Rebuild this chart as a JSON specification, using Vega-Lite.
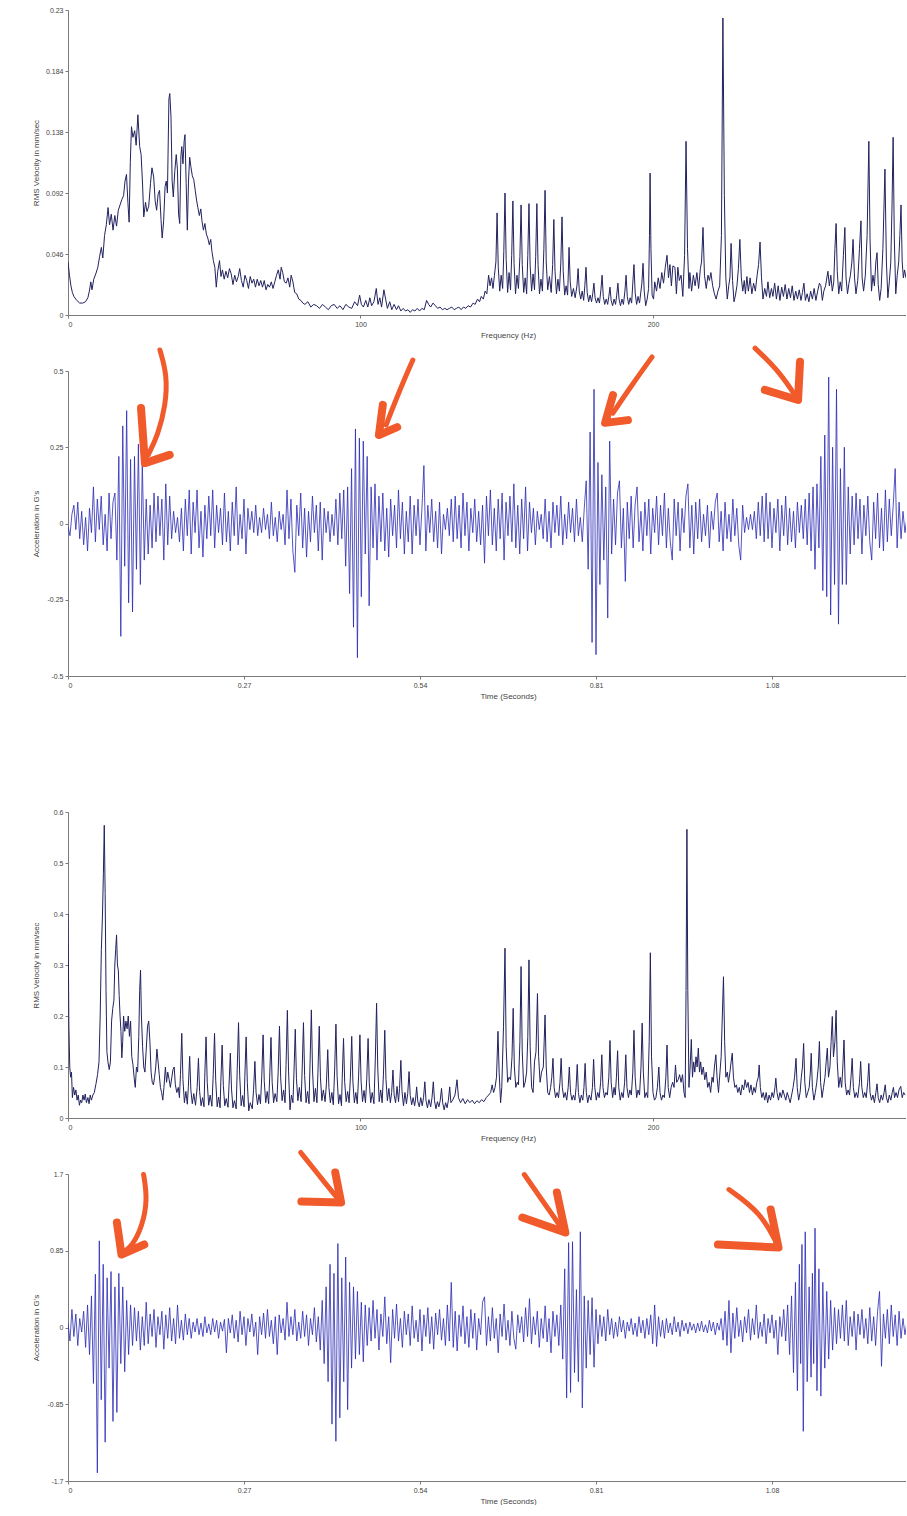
{
  "$schema": "https://vega.github.io/schema/vega-lite/v6.json",
  "background": "white",
  "padding": {"left": 32, "top": 6, "right": 0, "bottom": 0},
  "config": {
    "view": {"stroke": null},
    "font": "Liberation Sans",
    "axis": {
      "grid": false,
      "domainColor": "#7a7a7a",
      "tickColor": "#7a7a7a",
      "tickSize": 3,
      "labelPadding": 2,
      "labelFont": "Liberation Sans",
      "labelFontSize": 7,
      "labelColor": "#444444",
      "titleFont": "Liberation Sans",
      "titleFontSize": 8,
      "titleFontWeight": "normal",
      "titleColor": "#444444"
    },
    "axisY": {"minExtent": 22, "maxExtent": 22, "titlePadding": 6},
    "axisX": {"titlePadding": 4}
  },
  "datasets": {
    "spec1": [
      {"f":0,"v":0.040},{"f":0.5,"v":0.030},{"f":1,"v":0.022},{"f":1.5,"v":0.017},{"f":2,"v":0.014},{"f":3,"v":0.011},{"f":4,"v":0.009},{"f":5,"v":0.009},{"f":6,"v":0.010},{"f":6.8,"v":0.013},
      {"f":7.3,"v":0.018},{"f":7.8,"v":0.025},{"f":8.2,"v":0.019},{"f":8.8,"v":0.027},{"f":9.5,"v":0.031},{"f":10.2,"v":0.036},{"f":10.8,"v":0.044},{"f":11.4,"v":0.051},{"f":11.9,"v":0.043},{"f":12.5,"v":0.060},
      {"f":13.1,"v":0.068},{"f":13.7,"v":0.081},{"f":14.2,"v":0.068},{"f":14.8,"v":0.076},{"f":15.4,"v":0.064},{"f":16.0,"v":0.075},{"f":16.6,"v":0.067},{"f":17.2,"v":0.079},{"f":17.8,"v":0.083},{"f":18.4,"v":0.087},
      {"f":19.0,"v":0.090},{"f":19.5,"v":0.101},{"f":20.0,"v":0.106},{"f":20.5,"v":0.084},{"f":20.9,"v":0.070},{"f":21.3,"v":0.115},{"f":21.7,"v":0.142},{"f":22.2,"v":0.134},{"f":22.8,"v":0.139},{"f":23.3,"v":0.128},
      {"f":23.9,"v":0.151},{"f":24.5,"v":0.127},{"f":25.0,"v":0.121},{"f":25.5,"v":0.098},{"f":25.9,"v":0.074},{"f":26.5,"v":0.085},{"f":27.0,"v":0.078},{"f":27.6,"v":0.082},{"f":28.2,"v":0.099},{"f":28.7,"v":0.111},
      {"f":29.3,"v":0.104},{"f":29.8,"v":0.086},{"f":30.3,"v":0.079},{"f":30.8,"v":0.091},{"f":31.3,"v":0.094},{"f":31.8,"v":0.072},{"f":32.2,"v":0.058},{"f":32.7,"v":0.071},{"f":33.2,"v":0.097},{"f":33.6,"v":0.101},
      {"f":34.0,"v":0.092},{"f":34.5,"v":0.163},{"f":34.8,"v":0.167},{"f":35.2,"v":0.150},{"f":35.6,"v":0.101},{"f":36.0,"v":0.089},{"f":36.5,"v":0.108},{"f":37.0,"v":0.121},{"f":37.4,"v":0.110},{"f":37.8,"v":0.076},
      {"f":38.2,"v":0.069},{"f":38.6,"v":0.120},{"f":38.9,"v":0.127},{"f":39.3,"v":0.114},{"f":39.7,"v":0.131},{"f":40.0,"v":0.136},{"f":40.4,"v":0.099},{"f":40.8,"v":0.064},{"f":41.2,"v":0.101},{"f":41.6,"v":0.119},
      {"f":42.0,"v":0.112},{"f":42.5,"v":0.105},{"f":43.0,"v":0.102},{"f":43.5,"v":0.094},{"f":44.0,"v":0.086},{"f":44.4,"v":0.081},{"f":44.9,"v":0.075},{"f":45.4,"v":0.080},{"f":45.8,"v":0.071},{"f":46.3,"v":0.064},
      {"f":46.8,"v":0.069},{"f":47.3,"v":0.061},{"f":47.8,"v":0.058},{"f":48.3,"v":0.053},{"f":48.8,"v":0.057},{"f":49.2,"v":0.048},{"f":49.7,"v":0.041},{"f":50.2,"v":0.036},{"f":50.7,"v":0.021},{"f":51.2,"v":0.033},
      {"f":51.8,"v":0.041},{"f":52.3,"v":0.029},{"f":52.8,"v":0.034},{"f":53.4,"v":0.027},{"f":54.0,"v":0.033},{"f":54.6,"v":0.028},{"f":55.2,"v":0.035},{"f":55.8,"v":0.031},{"f":56.4,"v":0.023},{"f":57.0,"v":0.030},
      {"f":57.6,"v":0.025},{"f":58.2,"v":0.029},{"f":58.7,"v":0.035},{"f":59.3,"v":0.026},{"f":59.9,"v":0.021},{"f":60.5,"v":0.030},{"f":61.1,"v":0.026},{"f":61.7,"v":0.020},{"f":62.3,"v":0.029},{"f":62.9,"v":0.024},
      {"f":63.5,"v":0.027},{"f":64.1,"v":0.021},{"f":64.7,"v":0.027},{"f":65.3,"v":0.022},{"f":65.9,"v":0.026},{"f":66.5,"v":0.021},{"f":67.1,"v":0.026},{"f":67.7,"v":0.019},{"f":68.3,"v":0.023},{"f":68.9,"v":0.021},
      {"f":69.5,"v":0.025},{"f":70.1,"v":0.020},{"f":70.7,"v":0.025},{"f":71.3,"v":0.030},{"f":71.9,"v":0.034},{"f":72.5,"v":0.027},{"f":72.9,"v":0.036},{"f":73.4,"v":0.032},{"f":74.0,"v":0.025},{"f":74.6,"v":0.024},
      {"f":75.2,"v":0.028},{"f":75.8,"v":0.021},{"f":76.3,"v":0.030},{"f":76.9,"v":0.025},{"f":77.5,"v":0.017},{"f":78.2,"v":0.016},{"f":78.9,"v":0.012},{"f":79.6,"v":0.011},{"f":80.3,"v":0.009},{"f":81,"v":0.008},
      {"f":82,"v":0.010},{"f":83,"v":0.006},{"f":84,"v":0.008},{"f":85,"v":0.007},{"f":86,"v":0.005},{"f":87,"v":0.008},{"f":88,"v":0.006},{"f":89,"v":0.004},{"f":90,"v":0.007},{"f":91,"v":0.008},
      {"f":92,"v":0.005},{"f":93,"v":0.007},{"f":94,"v":0.004},{"f":95,"v":0.008},{"f":96,"v":0.006},{"f":97,"v":0.005},{"f":98,"v":0.010},{"f":99,"v":0.007},{"f":99.7,"v":0.015},{"f":100.3,"v":0.008},
      {"f":101,"v":0.006},{"f":101.8,"v":0.011},{"f":102.5,"v":0.006},{"f":103.2,"v":0.013},{"f":103.8,"v":0.007},{"f":104.6,"v":0.010},{"f":105.4,"v":0.020},{"f":106,"v":0.008},{"f":106.6,"v":0.013},{"f":107.2,"v":0.006},
      {"f":108,"v":0.019},{"f":108.6,"v":0.012},{"f":109.2,"v":0.005},{"f":110,"v":0.010},{"f":110.7,"v":0.004},{"f":111.5,"v":0.008},{"f":112.3,"v":0.004},{"f":113,"v":0.007},{"f":113.8,"v":0.003},{"f":114.6,"v":0.005},
      {"f":115.4,"v":0.003},{"f":116.2,"v":0.004},{"f":117,"v":0.002},{"f":117.8,"v":0.004},{"f":118.6,"v":0.003},{"f":119.4,"v":0.005},{"f":120.2,"v":0.003},{"f":121,"v":0.005},{"f":121.8,"v":0.004},{"f":122.6,"v":0.011},
      {"f":123.3,"v":0.008},{"f":124,"v":0.006},{"f":124.8,"v":0.009},{"f":125.6,"v":0.007},{"f":126.4,"v":0.005},{"f":127.2,"v":0.006},{"f":128,"v":0.004},{"f":128.8,"v":0.005},{"f":129.6,"v":0.004},{"f":130.4,"v":0.005},
      {"f":131.2,"v":0.006},{"f":132,"v":0.004},{"f":132.8,"v":0.005},{"f":133.6,"v":0.006},{"f":134.4,"v":0.004},{"f":135.2,"v":0.006},{"f":136,"v":0.005},{"f":136.8,"v":0.007},{"f":137.6,"v":0.006},{"f":138.5,"v":0.009},
      {"f":139.2,"v":0.008},{"f":140,"v":0.012},{"f":140.7,"v":0.010},{"f":141.3,"v":0.014},{"f":142,"v":0.012},{"f":142.6,"v":0.018},{"f":143.2,"v":0.016},{"f":143.8,"v":0.030},{"f":144.3,"v":0.022},{"f":144.8,"v":0.028},
      {"f":145.3,"v":0.020},{"f":145.8,"v":0.030},
      {"f":146.3,"v":0.040},{"f":146.7,"v":0.077},{"f":147.1,"v":0.036},{"f":147.6,"v":0.018},{"f":148.1,"v":0.030},{"f":148.6,"v":0.020},
      {"f":149.0,"v":0.048},{"f":149.4,"v":0.092},{"f":149.8,"v":0.042},{"f":150.3,"v":0.017},{"f":150.8,"v":0.032},{"f":151.3,"v":0.019},
      {"f":151.7,"v":0.045},{"f":152.1,"v":0.086},{"f":152.5,"v":0.039},{"f":153.0,"v":0.016},{"f":153.5,"v":0.030},{"f":154.0,"v":0.020},
      {"f":154.5,"v":0.044},{"f":154.9,"v":0.083},{"f":155.3,"v":0.038},{"f":155.8,"v":0.017},{"f":156.3,"v":0.028},{"f":156.8,"v":0.016},
      {"f":157.2,"v":0.045},{"f":157.6,"v":0.084},{"f":158.0,"v":0.037},{"f":158.5,"v":0.018},{"f":159.0,"v":0.031},{"f":159.5,"v":0.019},
      {"f":159.9,"v":0.044},{"f":160.3,"v":0.084},{"f":160.7,"v":0.038},{"f":161.2,"v":0.016},{"f":161.7,"v":0.027},{"f":162.2,"v":0.018},
      {"f":162.7,"v":0.050},{"f":163.1,"v":0.094},{"f":163.5,"v":0.040},{"f":164.0,"v":0.019},{"f":164.6,"v":0.029},{"f":165.2,"v":0.017},
      {"f":165.7,"v":0.038},{"f":166.1,"v":0.072},{"f":166.5,"v":0.033},{"f":167.0,"v":0.016},{"f":167.5,"v":0.027},{"f":168.0,"v":0.018},
      {"f":168.5,"v":0.040},{"f":168.9,"v":0.074},{"f":169.3,"v":0.033},{"f":169.8,"v":0.015},{"f":170.3,"v":0.022},{"f":170.8,"v":0.015},
      {"f":171.0,"v":0.028},{"f":171.3,"v":0.051},{"f":171.7,"v":0.025},{"f":172.2,"v":0.014},{"f":172.8,"v":0.020},{"f":173.4,"v":0.013},
      {"f":174.0,"v":0.022},{"f":174.4,"v":0.035},{"f":174.8,"v":0.018},{"f":175.3,"v":0.012},{"f":175.8,"v":0.018},{"f":176.3,"v":0.011},
      {"f":176.7,"v":0.022},{"f":177.1,"v":0.036},{"f":177.5,"v":0.017},{"f":178.0,"v":0.010},{"f":178.5,"v":0.015},{"f":179.0,"v":0.010},
      {"f":179.4,"v":0.016},{"f":179.8,"v":0.024},{"f":180.2,"v":0.013},{"f":180.7,"v":0.009},{"f":181.2,"v":0.013},{"f":181.7,"v":0.009},
      {"f":182.2,"v":0.019},{"f":182.6,"v":0.030},{"f":183.0,"v":0.014},{"f":183.5,"v":0.008},{"f":184.0,"v":0.012},{"f":184.5,"v":0.008},
      {"f":184.9,"v":0.014},{"f":185.3,"v":0.021},{"f":185.7,"v":0.011},{"f":186.2,"v":0.007},{"f":186.7,"v":0.012},{"f":187.2,"v":0.008},
      {"f":187.6,"v":0.015},{"f":188.0,"v":0.024},{"f":188.4,"v":0.012},{"f":188.9,"v":0.007},{"f":189.4,"v":0.012},{"f":189.9,"v":0.008},
      {"f":190.4,"v":0.018},{"f":190.8,"v":0.030},{"f":191.2,"v":0.014},{"f":191.7,"v":0.008},{"f":192.2,"v":0.013},{"f":192.7,"v":0.009},
      {"f":193.1,"v":0.024},{"f":193.5,"v":0.038},{"f":193.9,"v":0.017},{"f":194.4,"v":0.008},{"f":194.9,"v":0.014},{"f":195.4,"v":0.009},
      {"f":196.2,"v":0.024},{"f":196.6,"v":0.039},{"f":197.0,"v":0.018},{"f":197.5,"v":0.007},{"f":198.0,"v":0.012},{"f":198.5,"v":0.020},
      {"f":198.8,"v":0.060},{"f":199.0,"v":0.107},{"f":199.3,"v":0.050},{"f":199.7,"v":0.015},
      {"f":200.2,"v":0.012},{"f":200.6,"v":0.025},{"f":201.2,"v":0.018},{"f":201.8,"v":0.028},{"f":202.4,"v":0.020},{"f":203,"v":0.032},{"f":203.6,"v":0.024},{"f":204.2,"v":0.036},{"f":204.8,"v":0.045},{"f":205.3,"v":0.028},
      {"f":205.8,"v":0.038},{"f":206.3,"v":0.022},{"f":206.8,"v":0.037},{"f":207.5,"v":0.036},{"f":208,"v":0.016},{"f":208.5,"v":0.036},{"f":209,"v":0.026},{"f":209.6,"v":0.030},{"f":210.2,"v":0.014},{"f":210.8,"v":0.045},
      {"f":211.3,"v":0.131},{"f":211.8,"v":0.050},{"f":212.3,"v":0.020},{"f":212.6,"v":0.032},{"f":213.2,"v":0.018},{"f":213.8,"v":0.030},{"f":214.4,"v":0.022},{"f":215,"v":0.032},{"f":215.6,"v":0.020},{"f":216.2,"v":0.035},
      {"f":216.6,"v":0.040},{"f":217.1,"v":0.066},{"f":217.6,"v":0.030},{"f":218.2,"v":0.020},{"f":218.8,"v":0.030},{"f":219.3,"v":0.026},{"f":219.8,"v":0.032},{"f":220.4,"v":0.022},{"f":221,"v":0.016},{"f":221.6,"v":0.012},
      {"f":222.2,"v":0.018},{"f":222.8,"v":0.022},{"f":223.4,"v":0.060},{"f":223.9,"v":0.224},{"f":224.4,"v":0.090},{"f":224.9,"v":0.028},{"f":225.4,"v":0.012},{"f":225.9,"v":0.022},{"f":226.3,"v":0.028},{"f":226.7,"v":0.054},
      {"f":227.2,"v":0.026},{"f":227.7,"v":0.010},{"f":228.2,"v":0.015},{"f":228.7,"v":0.022},{"f":229.2,"v":0.035},{"f":229.7,"v":0.057},{"f":230.2,"v":0.028},{"f":230.7,"v":0.018},{"f":231.2,"v":0.026},{"f":231.6,"v":0.016},
      {"f":232.1,"v":0.029},{"f":232.6,"v":0.018},{"f":233.2,"v":0.028},{"f":233.8,"v":0.016},{"f":234.4,"v":0.024},{"f":235,"v":0.018},{"f":235.6,"v":0.030},{"f":236.1,"v":0.038},{"f":236.6,"v":0.055},{"f":237.1,"v":0.028},
      {"f":237.6,"v":0.012},{"f":238.2,"v":0.020},{"f":238.8,"v":0.014},{"f":239.3,"v":0.025},{"f":239.9,"v":0.013},{"f":240.5,"v":0.020},{"f":241,"v":0.014},{"f":241.6,"v":0.024},{"f":242.2,"v":0.012},{"f":242.8,"v":0.022},
      {"f":243.4,"v":0.011},{"f":244,"v":0.021},{"f":244.6,"v":0.014},{"f":245.2,"v":0.023},{"f":245.8,"v":0.012},{"f":246.4,"v":0.020},{"f":247,"v":0.013},{"f":247.6,"v":0.022},{"f":248.2,"v":0.011},{"f":248.8,"v":0.018},
      {"f":249.4,"v":0.012},{"f":250,"v":0.019},{"f":250.6,"v":0.011},{"f":251.1,"v":0.017},{"f":251.6,"v":0.024},{"f":252.1,"v":0.011},{"f":252.7,"v":0.016},{"f":253.3,"v":0.010},{"f":253.9,"v":0.018},{"f":254.5,"v":0.012},
      {"f":255.1,"v":0.020},{"f":255.7,"v":0.011},{"f":256.3,"v":0.018},{"f":256.9,"v":0.024},{"f":257.4,"v":0.022},{"f":257.9,"v":0.011},{"f":258.4,"v":0.018},{"f":259,"v":0.022},{"f":259.8,"v":0.033},{"f":260.3,"v":0.022},
      {"f":260.8,"v":0.030},{"f":261.3,"v":0.018},{"f":261.8,"v":0.025},{"f":262.2,"v":0.050},{"f":262.6,"v":0.069},{"f":263,"v":0.033},{"f":263.5,"v":0.016},{"f":264,"v":0.025},{"f":264.5,"v":0.018},{"f":265.1,"v":0.045},
      {"f":265.6,"v":0.066},{"f":266,"v":0.028},{"f":266.5,"v":0.016},{"f":267,"v":0.024},{"f":267.5,"v":0.030},{"f":268,"v":0.040},{"f":268.4,"v":0.057},{"f":268.9,"v":0.028},{"f":269.4,"v":0.016},{"f":270,"v":0.026},
      {"f":270.6,"v":0.050},{"f":271.1,"v":0.071},{"f":271.5,"v":0.028},{"f":272,"v":0.018},{"f":272.6,"v":0.030},{"f":273.2,"v":0.060},{"f":273.8,"v":0.131},{"f":274.2,"v":0.058},{"f":274.7,"v":0.018},{"f":275.2,"v":0.030},
      {"f":275.7,"v":0.022},{"f":276.2,"v":0.040},{"f":276.6,"v":0.047},{"f":277,"v":0.023},{"f":277.5,"v":0.011},{"f":278,"v":0.020},{"f":278.6,"v":0.050},{"f":279.3,"v":0.110},{"f":279.8,"v":0.040},{"f":280.3,"v":0.013},
      {"f":280.8,"v":0.025},{"f":281.3,"v":0.040},{"f":281.7,"v":0.080},{"f":282.1,"v":0.134},{"f":282.5,"v":0.058},{"f":283,"v":0.016},{"f":283.5,"v":0.030},{"f":284,"v":0.040},{"f":284.4,"v":0.060},{"f":284.8,"v":0.083},
      {"f":285.2,"v":0.040},{"f":285.6,"v":0.028},{"f":286,"v":0.034},{"f":286.5,"v":0.028}
    ],
    "acc1": [
      {"t":0.000,"a":-0.01},{"t":0.003,"a":-0.04},{"t":0.006,"a":0.03},{"t":0.009,"a":0.06},{"t":0.012,"a":-0.02},{"t":0.015,"a":0.07},{"t":0.018,"a":-0.05},{"t":0.021,"a":0.04},{"t":0.024,"a":-0.07},{"t":0.027,"a":0.02},
      {"t":0.030,"a":-0.09},{"t":0.033,"a":0.05},{"t":0.036,"a":-0.03},{"t":0.039,"a":0.12},{"t":0.042,"a":-0.06},{"t":0.045,"a":0.08},{"t":0.048,"a":-0.02},{"t":0.051,"a":0.09},{"t":0.054,"a":-0.07},{"t":0.057,"a":0.03},
      {"t":0.060,"a":-0.09},{"t":0.063,"a":0.10},{"t":0.066,"a":-0.05},{"t":0.069,"a":0.07},{"t":0.072,"a":0.10},{"t":0.075,"a":-0.12},{"t":0.078,"a":0.22},{"t":0.081,"a":-0.37},{"t":0.084,"a":0.32},{"t":0.087,"a":-0.14},
      {"t":0.090,"a":0.37},{"t":0.093,"a":-0.26},{"t":0.096,"a":0.21},{"t":0.099,"a":-0.29},{"t":0.102,"a":0.22},{"t":0.105,"a":-0.15},{"t":0.108,"a":0.26},{"t":0.111,"a":-0.20},{"t":0.114,"a":0.20},{"t":0.117,"a":-0.12},
      {"t":0.120,"a":0.08},{"t":0.123,"a":-0.10},{"t":0.126,"a":0.06},{"t":0.129,"a":-0.08},{"t":0.132,"a":0.10},{"t":0.135,"a":-0.06},{"t":0.138,"a":0.09},{"t":0.141,"a":-0.04},{"t":0.144,"a":0.08},{"t":0.147,"a":-0.12},
      {"t":0.150,"a":0.13},{"t":0.153,"a":-0.07},{"t":0.156,"a":0.09},{"t":0.159,"a":-0.05},{"t":0.162,"a":0.04},{"t":0.165,"a":-0.03},{"t":0.168,"a":0.02},{"t":0.171,"a":-0.06},{"t":0.174,"a":0.05},{"t":0.177,"a":-0.09},
      {"t":0.180,"a":0.08},{"t":0.183,"a":-0.04},{"t":0.186,"a":0.11},{"t":0.189,"a":-0.10},{"t":0.192,"a":0.07},{"t":0.195,"a":-0.03},{"t":0.198,"a":0.11},{"t":0.201,"a":-0.08},{"t":0.204,"a":0.04},{"t":0.207,"a":-0.11},
      {"t":0.210,"a":0.06},{"t":0.213,"a":-0.05},{"t":0.216,"a":0.09},{"t":0.219,"a":-0.04},{"t":0.222,"a":0.11},{"t":0.225,"a":-0.08},{"t":0.228,"a":0.06},{"t":0.231,"a":-0.03},{"t":0.234,"a":0.05},{"t":0.237,"a":-0.07},
      {"t":0.240,"a":0.10},{"t":0.243,"a":-0.06},{"t":0.246,"a":0.04},{"t":0.249,"a":-0.09},{"t":0.252,"a":0.07},{"t":0.255,"a":-0.04},{"t":0.258,"a":0.12},{"t":0.261,"a":-0.07},{"t":0.264,"a":0.03},{"t":0.267,"a":-0.05},
      {"t":0.270,"a":0.08},{"t":0.273,"a":-0.10},{"t":0.276,"a":0.05},{"t":0.279,"a":-0.02},{"t":0.282,"a":0.04},{"t":0.285,"a":-0.03},{"t":0.288,"a":0.06},{"t":0.291,"a":-0.04},{"t":0.294,"a":0.02},{"t":0.297,"a":-0.03},
      {"t":0.300,"a":0.05},{"t":0.303,"a":-0.02},{"t":0.306,"a":0.03},{"t":0.309,"a":-0.05},{"t":0.312,"a":0.07},{"t":0.315,"a":-0.04},{"t":0.318,"a":0.02},{"t":0.321,"a":-0.06},{"t":0.324,"a":0.04},{"t":0.327,"a":-0.02},
      {"t":0.330,"a":0.03},{"t":0.333,"a":-0.07},{"t":0.336,"a":0.11},{"t":0.339,"a":-0.05},{"t":0.342,"a":0.08},{"t":0.345,"a":-0.09},{"t":0.348,"a":-0.16},{"t":0.351,"a":0.06},{"t":0.354,"a":-0.04},{"t":0.357,"a":0.10},
      {"t":0.360,"a":-0.08},{"t":0.363,"a":0.05},{"t":0.366,"a":-0.11},{"t":0.369,"a":0.04},{"t":0.372,"a":-0.06},{"t":0.375,"a":0.09},{"t":0.378,"a":-0.03},{"t":0.381,"a":0.06},{"t":0.384,"a":-0.09},{"t":0.387,"a":0.07},
      {"t":0.390,"a":-0.12},{"t":0.393,"a":0.05},{"t":0.396,"a":-0.03},{"t":0.399,"a":0.04},{"t":0.402,"a":-0.06},{"t":0.405,"a":0.03},{"t":0.408,"a":-0.04},{"t":0.411,"a":0.08},{"t":0.414,"a":-0.07},{"t":0.417,"a":0.10},
      {"t":0.420,"a":-0.05},{"t":0.423,"a":0.11},{"t":0.426,"a":-0.14},{"t":0.429,"a":0.12},{"t":0.432,"a":-0.23},{"t":0.435,"a":0.18},{"t":0.438,"a":-0.34},{"t":0.441,"a":0.31},{"t":0.444,"a":-0.44},{"t":0.447,"a":0.28},
      {"t":0.450,"a":-0.24},{"t":0.453,"a":0.27},{"t":0.456,"a":-0.10},{"t":0.459,"a":0.22},{"t":0.462,"a":-0.27},{"t":0.465,"a":0.12},{"t":0.468,"a":-0.08},{"t":0.471,"a":0.13},{"t":0.474,"a":-0.12},{"t":0.477,"a":0.09},
      {"t":0.480,"a":-0.06},{"t":0.483,"a":0.10},{"t":0.486,"a":-0.09},{"t":0.489,"a":0.05},{"t":0.492,"a":-0.11},{"t":0.495,"a":0.08},{"t":0.498,"a":-0.04},{"t":0.501,"a":0.06},{"t":0.504,"a":-0.08},{"t":0.507,"a":0.11},
      {"t":0.510,"a":-0.05},{"t":0.513,"a":0.07},{"t":0.516,"a":-0.10},{"t":0.519,"a":0.04},{"t":0.522,"a":-0.06},{"t":0.525,"a":0.09},{"t":0.528,"a":-0.10},{"t":0.531,"a":0.06},{"t":0.534,"a":-0.04},{"t":0.537,"a":0.08},
      {"t":0.540,"a":-0.07},{"t":0.543,"a":0.05},{"t":0.546,"a":0.19},{"t":0.549,"a":-0.09},{"t":0.552,"a":0.06},{"t":0.555,"a":-0.03},{"t":0.558,"a":0.08},{"t":0.561,"a":-0.06},{"t":0.564,"a":0.04},{"t":0.567,"a":-0.08},
      {"t":0.570,"a":0.07},{"t":0.573,"a":-0.10},{"t":0.576,"a":0.03},{"t":0.579,"a":-0.02},{"t":0.582,"a":0.05},{"t":0.585,"a":-0.04},{"t":0.588,"a":0.08},{"t":0.591,"a":-0.06},{"t":0.594,"a":0.09},{"t":0.597,"a":-0.05},
      {"t":0.600,"a":0.06},{"t":0.603,"a":-0.08},{"t":0.606,"a":0.10},{"t":0.609,"a":-0.04},{"t":0.612,"a":0.07},{"t":0.615,"a":-0.09},{"t":0.618,"a":0.05},{"t":0.621,"a":-0.03},{"t":0.624,"a":0.08},{"t":0.627,"a":-0.06},
      {"t":0.630,"a":0.04},{"t":0.633,"a":-0.07},{"t":0.636,"a":0.06},{"t":0.639,"a":-0.13},{"t":0.642,"a":0.09},{"t":0.645,"a":-0.04},{"t":0.648,"a":0.11},{"t":0.651,"a":-0.07},{"t":0.654,"a":0.05},{"t":0.657,"a":-0.09},
      {"t":0.660,"a":0.08},{"t":0.663,"a":-0.05},{"t":0.666,"a":0.10},{"t":0.669,"a":-0.12},{"t":0.672,"a":0.07},{"t":0.675,"a":-0.04},{"t":0.678,"a":0.09},{"t":0.681,"a":-0.06},{"t":0.684,"a":0.13},{"t":0.687,"a":-0.08},
      {"t":0.690,"a":0.06},{"t":0.693,"a":-0.10},{"t":0.696,"a":0.08},{"t":0.699,"a":-0.05},{"t":0.702,"a":0.12},{"t":0.705,"a":-0.09},{"t":0.708,"a":0.07},{"t":0.711,"a":-0.03},{"t":0.714,"a":0.05},{"t":0.717,"a":-0.07},
      {"t":0.720,"a":0.04},{"t":0.723,"a":-0.02},{"t":0.726,"a":0.03},{"t":0.729,"a":-0.05},{"t":0.732,"a":0.08},{"t":0.735,"a":-0.06},{"t":0.738,"a":0.04},{"t":0.741,"a":-0.08},{"t":0.744,"a":0.07},{"t":0.747,"a":-0.03},
      {"t":0.750,"a":0.06},{"t":0.753,"a":-0.04},{"t":0.756,"a":0.09},{"t":0.759,"a":-0.07},{"t":0.762,"a":0.03},{"t":0.765,"a":-0.05},{"t":0.768,"a":0.07},{"t":0.771,"a":-0.03},{"t":0.774,"a":0.05},{"t":0.777,"a":-0.06},
      {"t":0.780,"a":0.08},{"t":0.783,"a":-0.04},{"t":0.786,"a":0.02},{"t":0.789,"a":-0.06},{"t":0.792,"a":0.05},{"t":0.795,"a":0.14},{"t":0.798,"a":-0.15},{"t":0.801,"a":0.30},{"t":0.804,"a":-0.39},{"t":0.807,"a":0.44},
      {"t":0.810,"a":-0.43},{"t":0.813,"a":0.20},{"t":0.816,"a":-0.20},{"t":0.819,"a":0.16},{"t":0.822,"a":-0.12},{"t":0.825,"a":0.12},{"t":0.828,"a":-0.31},{"t":0.831,"a":0.27},{"t":0.834,"a":-0.10},{"t":0.837,"a":0.08},
      {"t":0.840,"a":-0.07},{"t":0.843,"a":0.10},{"t":0.846,"a":0.14},{"t":0.849,"a":-0.08},{"t":0.852,"a":0.05},{"t":0.855,"a":-0.19},{"t":0.858,"a":0.07},{"t":0.861,"a":-0.05},{"t":0.864,"a":0.09},{"t":0.867,"a":-0.08},
      {"t":0.870,"a":0.06},{"t":0.873,"a":0.12},{"t":0.876,"a":-0.06},{"t":0.879,"a":0.04},{"t":0.882,"a":-0.09},{"t":0.885,"a":0.07},{"t":0.888,"a":-0.04},{"t":0.891,"a":0.08},{"t":0.894,"a":-0.10},{"t":0.897,"a":0.05},
      {"t":0.900,"a":-0.03},{"t":0.903,"a":0.09},{"t":0.906,"a":-0.07},{"t":0.909,"a":0.06},{"t":0.912,"a":-0.04},{"t":0.915,"a":0.10},{"t":0.918,"a":-0.08},{"t":0.921,"a":0.05},{"t":0.924,"a":-0.06},{"t":0.927,"a":-0.12},
      {"t":0.930,"a":0.08},{"t":0.933,"a":-0.04},{"t":0.936,"a":0.07},{"t":0.939,"a":-0.09},{"t":0.942,"a":0.05},{"t":0.945,"a":-0.03},{"t":0.948,"a":0.09},{"t":0.951,"a":0.13},{"t":0.954,"a":-0.08},{"t":0.957,"a":0.06},
      {"t":0.960,"a":-0.10},{"t":0.963,"a":0.07},{"t":0.966,"a":-0.05},{"t":0.969,"a":0.08},{"t":0.972,"a":-0.06},{"t":0.975,"a":0.03},{"t":0.978,"a":-0.04},{"t":0.981,"a":0.06},{"t":0.984,"a":-0.08},{"t":0.987,"a":0.04},
      {"t":0.990,"a":-0.02},{"t":0.993,"a":0.07},{"t":0.996,"a":0.10},{"t":0.999,"a":-0.06},{"t":1.002,"a":0.04},{"t":1.005,"a":-0.09},{"t":1.008,"a":0.07},{"t":1.011,"a":-0.05},{"t":1.014,"a":0.03},{"t":1.017,"a":-0.06},
      {"t":1.020,"a":0.08},{"t":1.023,"a":-0.04},{"t":1.026,"a":0.05},{"t":1.029,"a":-0.07},{"t":1.032,"a":-0.12},{"t":1.035,"a":0.06},{"t":1.038,"a":-0.03},{"t":1.041,"a":0.02},{"t":1.044,"a":-0.02},{"t":1.047,"a":0.03},
      {"t":1.050,"a":-0.02},{"t":1.053,"a":0.04},{"t":1.056,"a":-0.05},{"t":1.059,"a":0.07},{"t":1.062,"a":-0.04},{"t":1.065,"a":0.09},{"t":1.068,"a":-0.06},{"t":1.071,"a":0.10},{"t":1.074,"a":-0.05},{"t":1.077,"a":0.07},
      {"t":1.080,"a":-0.08},{"t":1.083,"a":0.05},{"t":1.086,"a":-0.03},{"t":1.089,"a":0.08},{"t":1.092,"a":-0.09},{"t":1.095,"a":0.06},{"t":1.098,"a":-0.04},{"t":1.101,"a":0.09},{"t":1.104,"a":-0.07},{"t":1.107,"a":0.05},
      {"t":1.110,"a":-0.06},{"t":1.113,"a":0.04},{"t":1.116,"a":-0.08},{"t":1.119,"a":0.07},{"t":1.122,"a":-0.03},{"t":1.125,"a":0.06},{"t":1.128,"a":-0.05},{"t":1.131,"a":0.08},{"t":1.134,"a":-0.07},{"t":1.137,"a":0.10},
      {"t":1.140,"a":-0.09},{"t":1.143,"a":0.12},{"t":1.146,"a":-0.15},{"t":1.149,"a":0.13},{"t":1.152,"a":-0.08},{"t":1.155,"a":0.22},{"t":1.158,"a":-0.22},{"t":1.161,"a":0.29},{"t":1.164,"a":-0.24},{"t":1.167,"a":0.48},
      {"t":1.170,"a":-0.30},{"t":1.173,"a":0.25},{"t":1.176,"a":-0.20},{"t":1.179,"a":0.44},{"t":1.182,"a":-0.33},{"t":1.185,"a":0.18},{"t":1.188,"a":-0.20},{"t":1.191,"a":0.25},{"t":1.194,"a":-0.20},{"t":1.197,"a":0.12},
      {"t":1.200,"a":-0.10},{"t":1.203,"a":0.09},{"t":1.206,"a":-0.07},{"t":1.209,"a":0.10},{"t":1.212,"a":-0.05},{"t":1.215,"a":0.08},{"t":1.218,"a":-0.10},{"t":1.221,"a":0.06},{"t":1.224,"a":-0.04},{"t":1.227,"a":0.09},
      {"t":1.230,"a":-0.06},{"t":1.233,"a":-0.12},{"t":1.236,"a":0.07},{"t":1.239,"a":-0.05},{"t":1.242,"a":0.10},{"t":1.245,"a":-0.08},{"t":1.248,"a":0.05},{"t":1.251,"a":-0.09},{"t":1.254,"a":0.11},{"t":1.257,"a":-0.06},
      {"t":1.260,"a":0.08},{"t":1.263,"a":-0.04},{"t":1.266,"a":0.06},{"t":1.269,"a":0.18},{"t":1.272,"a":-0.08},{"t":1.275,"a":0.07},{"t":1.278,"a":-0.05},{"t":1.281,"a":0.04},{"t":1.284,"a":-0.03},{"t":1.287,"a":0.02}
    ],
    "spec2": [
      {"f":0,"v":0.40},{"f":0.15,"v":0.30},{"f":0.3,"v":0.18},{"f":0.6,"v":0.10},{"f":0.9,"v":0.08},{"f":1.2,"v":0.09},{"f":1.5,"v":0.04},{"f":1.9,"v":0.06},{"f":2.3,"v":0.045},{"f":2.7,"v":0.055},
      {"f":3.1,"v":0.035},{"f":3.5,"v":0.045},{"f":3.9,"v":0.025},{"f":4.3,"v":0.035},{"f":4.7,"v":0.03},{"f":5.1,"v":0.045},{"f":5.5,"v":0.035},{"f":5.9,"v":0.047},{"f":6.3,"v":0.03},{"f":6.8,"v":0.04},
      {"f":7.2,"v":0.028},{"f":7.6,"v":0.045},{"f":8.0,"v":0.035},{"f":8.5,"v":0.045},{"f":9.0,"v":0.05},{"f":9.6,"v":0.068},{"f":10.1,"v":0.085},{"f":10.6,"v":0.11},{"f":11.0,"v":0.2},{"f":11.4,"v":0.33},
      {"f":11.8,"v":0.40},{"f":12.1,"v":0.48},{"f":12.4,"v":0.574},{"f":12.7,"v":0.44},{"f":13.0,"v":0.25},{"f":13.3,"v":0.13},{"f":13.7,"v":0.108},{"f":14.1,"v":0.095},{"f":14.5,"v":0.11},{"f":14.9,"v":0.19},
      {"f":15.3,"v":0.215},{"f":15.7,"v":0.231},{"f":16.0,"v":0.30},{"f":16.3,"v":0.33},{"f":16.6,"v":0.359},{"f":16.9,"v":0.30},{"f":17.2,"v":0.29},{"f":17.5,"v":0.24},{"f":17.8,"v":0.20},{"f":18.1,"v":0.17},
      {"f":18.4,"v":0.118},{"f":18.7,"v":0.15},{"f":19.0,"v":0.20},{"f":19.4,"v":0.17},{"f":19.8,"v":0.19},{"f":20.2,"v":0.175},{"f":20.6,"v":0.2},{"f":21.0,"v":0.16},{"f":21.4,"v":0.19},{"f":21.8,"v":0.12},
      {"f":22.2,"v":0.105},{"f":22.6,"v":0.08},{"f":23.0,"v":0.06},{"f":23.4,"v":0.1},{"f":23.8,"v":0.09},{"f":24.2,"v":0.16},{"f":24.5,"v":0.25},{"f":24.8,"v":0.29},{"f":25.1,"v":0.2},{"f":25.5,"v":0.14},
      {"f":25.9,"v":0.1},{"f":26.3,"v":0.09},{"f":26.7,"v":0.13},{"f":27.2,"v":0.18},{"f":27.6,"v":0.19},{"f":28.0,"v":0.15},{"f":28.4,"v":0.09},{"f":28.8,"v":0.07},{"f":29.2,"v":0.065},{"f":29.6,"v":0.08},
      {"f":30.0,"v":0.1},{"f":30.4,"v":0.135},{"f":30.8,"v":0.11},{"f":31.2,"v":0.085},{"f":31.6,"v":0.06},{"f":32.0,"v":0.05},{"f":32.4,"v":0.035},{"f":32.8,"v":0.06},{"f":33.3,"v":0.10},{"f":33.7,"v":0.07},
      {"f":34.1,"v":0.09},{"f":34.6,"v":0.075},{"f":35.0,"v":0.06},{"f":35.5,"v":0.08},{"f":35.9,"v":0.095},{"f":36.3,"v":0.10},{"f":36.7,"v":0.065},{"f":37.2,"v":0.05},{"f":37.7,"v":0.06},{"f":38.1,"v":0.04},
      {"f":38.45,"v":0.085},{"f":38.9,"v":0.166},{"f":39.3,"v":0.075},{"f":39.8,"v":0.030},{"f":40.3,"v":0.052},{"f":40.8,"v":0.027},
      {"f":41.15,"v":0.062},{"f":41.6,"v":0.121},{"f":42.0,"v":0.055},{"f":42.5,"v":0.028},{"f":43.0,"v":0.048},{"f":43.6,"v":0.025},
      {"f":44.15,"v":0.060},{"f":44.6,"v":0.117},{"f":45.0,"v":0.052},{"f":45.5,"v":0.024},{"f":46.0,"v":0.040},{"f":46.5,"v":0.022},
      {"f":46.75,"v":0.080},{"f":47.2,"v":0.159},{"f":47.6,"v":0.070},{"f":48.1,"v":0.025},{"f":48.6,"v":0.045},{"f":49.2,"v":0.023},
      {"f":49.65,"v":0.085},{"f":50.1,"v":0.166},{"f":50.5,"v":0.074},{"f":51.0,"v":0.022},{"f":51.5,"v":0.041},{"f":52.0,"v":0.020},
      {"f":52.25,"v":0.072},{"f":52.7,"v":0.143},{"f":53.1,"v":0.064},{"f":53.6,"v":0.024},{"f":54.1,"v":0.038},{"f":54.7,"v":0.021},
      {"f":55.05,"v":0.064},{"f":55.5,"v":0.127},{"f":55.9,"v":0.057},{"f":56.4,"v":0.020},{"f":56.9,"v":0.034},{"f":57.5,"v":0.018},
      {"f":57.85,"v":0.095},{"f":58.3,"v":0.187},{"f":58.7,"v":0.083},{"f":59.2,"v":0.024},{"f":59.7,"v":0.044},{"f":60.2,"v":0.022},
      {"f":60.45,"v":0.080},{"f":60.9,"v":0.159},{"f":61.3,"v":0.070},{"f":61.8,"v":0.014},{"f":62.3,"v":0.030},{"f":63.0,"v":0.018},
      {"f":63.45,"v":0.056},{"f":63.9,"v":0.111},{"f":64.3,"v":0.050},{"f":64.8,"v":0.026},{"f":65.3,"v":0.046},{"f":65.8,"v":0.028},
      {"f":66.25,"v":0.082},{"f":66.7,"v":0.163},{"f":67.1,"v":0.072},{"f":67.6,"v":0.030},{"f":68.1,"v":0.052},{"f":68.6,"v":0.028},
      {"f":68.95,"v":0.080},{"f":69.4,"v":0.158},{"f":69.8,"v":0.070},{"f":70.3,"v":0.030},{"f":70.8,"v":0.048},{"f":71.4,"v":0.032},
      {"f":71.85,"v":0.090},{"f":72.3,"v":0.180},{"f":72.7,"v":0.080},{"f":73.2,"v":0.034},{"f":73.7,"v":0.055},{"f":74.2,"v":0.030},
      {"f":74.55,"v":0.105},{"f":75.0,"v":0.211},{"f":75.4,"v":0.092},{"f":75.9,"v":0.016},{"f":76.4,"v":0.045},{"f":76.9,"v":0.030},
      {"f":77.25,"v":0.088},{"f":77.7,"v":0.174},{"f":78.1,"v":0.077},{"f":78.6,"v":0.034},{"f":79.1,"v":0.060},{"f":79.7,"v":0.032},
      {"f":80.05,"v":0.094},{"f":80.5,"v":0.187},{"f":80.9,"v":0.083},{"f":81.4,"v":0.030},{"f":81.9,"v":0.052},{"f":82.4,"v":0.028},
      {"f":82.75,"v":0.106},{"f":83.2,"v":0.212},{"f":83.6,"v":0.094},{"f":84.1,"v":0.032},{"f":84.6,"v":0.058},{"f":85.1,"v":0.030},
      {"f":85.45,"v":0.090},{"f":85.9,"v":0.180},{"f":86.3,"v":0.080},{"f":86.8,"v":0.034},{"f":87.3,"v":0.055},{"f":87.9,"v":0.032},
      {"f":88.35,"v":0.067},{"f":88.8,"v":0.134},{"f":89.2,"v":0.060},{"f":89.7,"v":0.030},{"f":90.2,"v":0.050},{"f":90.7,"v":0.026},
      {"f":91.15,"v":0.092},{"f":91.6,"v":0.184},{"f":92.0,"v":0.082},{"f":92.5,"v":0.028},{"f":93.0,"v":0.046},{"f":93.5,"v":0.024},
      {"f":93.75,"v":0.078},{"f":94.2,"v":0.156},{"f":94.6,"v":0.070},{"f":95.1,"v":0.032},{"f":95.6,"v":0.052},{"f":96.1,"v":0.030},
      {"f":96.55,"v":0.080},{"f":97.0,"v":0.160},{"f":97.4,"v":0.071},{"f":97.9,"v":0.030},{"f":98.4,"v":0.050},{"f":98.9,"v":0.028},
      {"f":99.35,"v":0.082},{"f":99.8,"v":0.163},{"f":100.2,"v":0.072},{"f":100.7,"v":0.032},{"f":101.2,"v":0.054},{"f":101.7,"v":0.030},
      {"f":102.15,"v":0.078},{"f":102.6,"v":0.156},{"f":103.0,"v":0.069},{"f":103.5,"v":0.030},{"f":104.0,"v":0.050},{"f":104.6,"v":0.028},
      {"f":105.05,"v":0.112},{"f":105.5,"v":0.225},{"f":105.9,"v":0.098},{"f":106.4,"v":0.032},{"f":106.9,"v":0.055},{"f":107.4,"v":0.030},
      {"f":107.85,"v":0.086},{"f":108.3,"v":0.172},{"f":108.7,"v":0.076},{"f":109.2,"v":0.034},{"f":109.7,"v":0.058},{"f":110.2,"v":0.030},
      {"f":110.65,"v":0.050},{"f":111.1,"v":0.094},{"f":111.5,"v":0.045},{"f":112.0,"v":0.030},{"f":112.5,"v":0.062},{"f":113.0,"v":0.032},
      {"f":113.35,"v":0.058},{"f":113.8,"v":0.113},{"f":114.2,"v":0.052},{"f":114.7,"v":0.024},{"f":115.2,"v":0.050},{"f":115.7,"v":0.028},
      {"f":116.15,"v":0.048},{"f":116.6,"v":0.091},{"f":117.0,"v":0.044},{"f":117.5,"v":0.026},{"f":118.0,"v":0.040},{"f":118.5,"v":0.024},
      {"f":118.8,"v":0.035},{"f":119.2,"v":0.061},{"f":119.6,"v":0.032},{"f":120.1,"v":0.022},{"f":120.6,"v":0.040},{"f":121.1,"v":0.024},
      {"f":121.55,"v":0.040},{"f":122.0,"v":0.071},{"f":122.4,"v":0.034},{"f":122.9,"v":0.020},{"f":123.4,"v":0.036},{"f":124.0,"v":0.022},
      {"f":124.45,"v":0.040},{"f":124.9,"v":0.071},{"f":125.3,"v":0.034},{"f":125.8,"v":0.018},{"f":126.3,"v":0.032},{"f":126.8,"v":0.022},
      {"f":127.25,"v":0.034},{"f":127.7,"v":0.058},{"f":128.1,"v":0.030},{"f":128.6,"v":0.016},{"f":129.1,"v":0.030},{"f":129.6,"v":0.020},
      {"f":130.05,"v":0.035},{"f":130.5,"v":0.061},{"f":130.9,"v":0.030},
      {"f":131.5,"v":0.035},{"f":132.3,"v":0.045},{"f":133,"v":0.075},{"f":133.5,"v":0.04},{"f":134.2,"v":0.03},{"f":135,"v":0.038},{"f":135.8,"v":0.028},{"f":136.6,"v":0.036},{"f":137.4,"v":0.03},{"f":138.2,"v":0.035},
      {"f":139,"v":0.028},{"f":139.8,"v":0.034},{"f":140.6,"v":0.03},{"f":141.4,"v":0.036},{"f":142.2,"v":0.032},{"f":143,"v":0.04},{"f":143.8,"v":0.045},{"f":144.5,"v":0.05},{"f":145.0,"v":0.065},{"f":145.5,"v":0.05},
      {"f":146.0,"v":0.06},{"f":146.5,"v":0.08},{"f":147.0,"v":0.17},{"f":147.4,"v":0.09},{"f":147.9,"v":0.03},{"f":148.3,"v":0.06},{"f":148.9,"v":0.18},{"f":149.4,"v":0.333},{"f":149.8,"v":0.14},{"f":150.3,"v":0.07},
      {"f":150.8,"v":0.08},{"f":151.3,"v":0.075},{"f":151.8,"v":0.12},{"f":152.2,"v":0.215},{"f":152.6,"v":0.10},{"f":153.1,"v":0.06},{"f":153.6,"v":0.07},{"f":154.0,"v":0.065},{"f":154.5,"v":0.15},{"f":154.9,"v":0.297},
      {"f":155.3,"v":0.13},{"f":155.8,"v":0.06},{"f":156.3,"v":0.07},{"f":156.8,"v":0.09},{"f":157.2,"v":0.16},{"f":157.6,"v":0.31},{"f":158.0,"v":0.14},{"f":158.5,"v":0.06},{"f":159.0,"v":0.05},{"f":159.5,"v":0.11},
      {"f":160.0,"v":0.13},{"f":160.5,"v":0.244},{"f":160.9,"v":0.12},{"f":161.4,"v":0.07},{"f":161.9,"v":0.09},{"f":162.5,"v":0.10},{"f":162.8,"v":0.15},{"f":163.1,"v":0.202},{"f":163.5,"v":0.10},{"f":164.0,"v":0.05},
      {"f":164.5,"v":0.045},{"f":165.0,"v":0.06},{"f":165.4,"v":0.08},{"f":165.8,"v":0.117},{"f":166.2,"v":0.06},{"f":166.7,"v":0.04},{"f":167.2,"v":0.05},{"f":167.7,"v":0.04},{"f":168.2,"v":0.07},{"f":168.6,"v":0.117},
      {"f":169.0,"v":0.06},{"f":169.5,"v":0.04},{"f":170.0,"v":0.05},{"f":170.5,"v":0.035},{"f":171.0,"v":0.06},{"f":171.4,"v":0.10},{"f":171.8,"v":0.05},{"f":172.3,"v":0.035},{"f":172.8,"v":0.045},{"f":173.3,"v":0.035},
      {"f":173.7,"v":0.06},{"f":174.1,"v":0.105},{"f":174.5,"v":0.05},{"f":175.0,"v":0.03},{"f":175.5,"v":0.045},{"f":176.0,"v":0.035},{"f":176.4,"v":0.06},{"f":176.8,"v":0.107},{"f":177.2,"v":0.05},{"f":177.7,"v":0.03},
      {"f":178.2,"v":0.045},{"f":178.8,"v":0.035},{"f":179.3,"v":0.06},{"f":179.7,"v":0.115},{"f":180.1,"v":0.06},{"f":180.6,"v":0.035},{"f":181.1,"v":0.05},{"f":181.6,"v":0.04},{"f":182.1,"v":0.07},{"f":182.5,"v":0.124},
      {"f":182.9,"v":0.06},{"f":183.4,"v":0.04},{"f":183.9,"v":0.05},{"f":184.4,"v":0.045},{"f":184.9,"v":0.08},{"f":185.3,"v":0.152},{"f":185.7,"v":0.07},{"f":186.2,"v":0.04},{"f":186.7,"v":0.06},{"f":187.1,"v":0.045},
      {"f":187.5,"v":0.08},{"f":187.9,"v":0.132},{"f":188.3,"v":0.06},{"f":188.8,"v":0.035},{"f":189.3,"v":0.05},{"f":189.8,"v":0.04},{"f":190.3,"v":0.07},{"f":190.7,"v":0.124},{"f":191.1,"v":0.06},{"f":191.6,"v":0.04},
      {"f":192.1,"v":0.055},{"f":192.6,"v":0.045},{"f":193.1,"v":0.09},{"f":193.5,"v":0.172},{"f":193.9,"v":0.08},{"f":194.4,"v":0.04},{"f":194.9,"v":0.055},{"f":195.4,"v":0.045},{"f":195.9,"v":0.10},{"f":196.3,"v":0.186},
      {"f":196.7,"v":0.09},{"f":197.2,"v":0.04},{"f":197.7,"v":0.05},{"f":198.2,"v":0.04},{"f":198.7,"v":0.15},{"f":199.1,"v":0.324},{"f":199.5,"v":0.12},{"f":200.0,"v":0.05},{"f":200.5,"v":0.035},{"f":201.0,"v":0.04},
      {"f":201.5,"v":0.06},{"f":202.0,"v":0.10},{"f":202.4,"v":0.05},{"f":202.9,"v":0.035},{"f":203.4,"v":0.045},{"f":203.9,"v":0.04},{"f":204.4,"v":0.08},{"f":204.8,"v":0.143},{"f":205.2,"v":0.06},{"f":205.7,"v":0.04},
      {"f":206.2,"v":0.06},{"f":206.7,"v":0.07},{"f":207.2,"v":0.06},{"f":207.7,"v":0.104},{"f":208.1,"v":0.07},{"f":208.6,"v":0.075},{"f":209.1,"v":0.085},{"f":209.6,"v":0.07},{"f":210.1,"v":0.085},{"f":210.6,"v":0.05},
      {"f":211.0,"v":0.04},{"f":211.3,"v":0.25},{"f":211.6,"v":0.566},{"f":211.9,"v":0.25},{"f":212.3,"v":0.06},{"f":212.7,"v":0.10},{"f":213.1,"v":0.154},{"f":213.5,"v":0.08},{"f":213.9,"v":0.11},{"f":214.3,"v":0.09},
      {"f":214.7,"v":0.12},{"f":215.1,"v":0.10},{"f":215.5,"v":0.137},{"f":215.9,"v":0.09},{"f":216.3,"v":0.11},{"f":216.7,"v":0.085},{"f":217.2,"v":0.10},{"f":217.7,"v":0.075},{"f":218.2,"v":0.09},{"f":218.7,"v":0.06},
      {"f":219.2,"v":0.07},{"f":219.7,"v":0.05},{"f":220.2,"v":0.08},{"f":220.6,"v":0.07},{"f":221.0,"v":0.10},{"f":221.5,"v":0.124},{"f":221.9,"v":0.08},{"f":222.4,"v":0.05},{"f":222.9,"v":0.09},{"f":223.3,"v":0.12},
      {"f":223.7,"v":0.2},{"f":224.1,"v":0.277},{"f":224.5,"v":0.15},{"f":224.9,"v":0.08},{"f":225.4,"v":0.09},{"f":225.8,"v":0.07},{"f":226.3,"v":0.09},{"f":226.7,"v":0.11},{"f":227.1,"v":0.127},{"f":227.5,"v":0.08},
      {"f":228.0,"v":0.06},{"f":228.5,"v":0.065},{"f":229.0,"v":0.05},{"f":229.5,"v":0.06},{"f":230.0,"v":0.045},{"f":230.5,"v":0.065},{"f":231.0,"v":0.055},{"f":231.5,"v":0.075},{"f":232.0,"v":0.06},{"f":232.5,"v":0.07},
      {"f":233.0,"v":0.05},{"f":233.5,"v":0.065},{"f":234.0,"v":0.045},{"f":234.5,"v":0.06},{"f":235.0,"v":0.05},{"f":235.5,"v":0.07},{"f":236.0,"v":0.08},{"f":236.3,"v":0.104},{"f":236.7,"v":0.06},{"f":237.2,"v":0.04},
      {"f":237.7,"v":0.05},{"f":238.2,"v":0.035},{"f":238.7,"v":0.05},{"f":239.2,"v":0.03},{"f":239.7,"v":0.045},{"f":240.2,"v":0.035},{"f":240.7,"v":0.05},{"f":241.2,"v":0.04},{"f":241.7,"v":0.06},{"f":242.0,"v":0.078},
      {"f":242.4,"v":0.05},{"f":242.9,"v":0.035},{"f":243.4,"v":0.05},{"f":243.9,"v":0.04},{"f":244.4,"v":0.055},{"f":244.9,"v":0.045},{"f":245.4,"v":0.035},{"f":245.9,"v":0.05},{"f":246.4,"v":0.04},{"f":246.9,"v":0.03},
      {"f":247.4,"v":0.045},{"f":247.9,"v":0.06},{"f":248.4,"v":0.08},{"f":248.9,"v":0.117},{"f":249.3,"v":0.06},{"f":249.8,"v":0.035},{"f":250.3,"v":0.05},{"f":250.7,"v":0.08},{"f":251.1,"v":0.1},{"f":251.5,"v":0.146},
      {"f":251.9,"v":0.07},{"f":252.4,"v":0.04},{"f":252.9,"v":0.05},{"f":253.4,"v":0.06},{"f":253.8,"v":0.09},{"f":254.1,"v":0.127},{"f":254.5,"v":0.06},{"f":255.0,"v":0.035},{"f":255.5,"v":0.05},{"f":256.0,"v":0.07},
      {"f":256.5,"v":0.1},{"f":256.9,"v":0.15},{"f":257.3,"v":0.07},{"f":257.8,"v":0.04},{"f":258.3,"v":0.06},{"f":258.8,"v":0.08},{"f":259.2,"v":0.11},{"f":259.6,"v":0.137},{"f":260.0,"v":0.08},{"f":260.5,"v":0.1},
      {"f":260.9,"v":0.15},{"f":261.3,"v":0.199},{"f":261.7,"v":0.12},{"f":262.2,"v":0.15},{"f":262.6,"v":0.211},{"f":263.0,"v":0.11},{"f":263.5,"v":0.06},{"f":264.0,"v":0.08},{"f":264.5,"v":0.06},{"f":264.9,"v":0.1},
      {"f":265.3,"v":0.153},{"f":265.7,"v":0.07},{"f":266.2,"v":0.045},{"f":266.7,"v":0.055},{"f":267.2,"v":0.045},{"f":267.7,"v":0.08},{"f":268.1,"v":0.117},{"f":268.5,"v":0.06},{"f":269.0,"v":0.04},{"f":269.5,"v":0.05},
      {"f":270.0,"v":0.04},{"f":270.6,"v":0.07},{"f":271.0,"v":0.111},{"f":271.4,"v":0.06},{"f":271.9,"v":0.04},{"f":272.4,"v":0.05},{"f":272.9,"v":0.04},{"f":273.4,"v":0.07},{"f":273.8,"v":0.107},{"f":274.2,"v":0.05},
      {"f":274.7,"v":0.035},{"f":275.2,"v":0.045},{"f":275.7,"v":0.03},{"f":276.2,"v":0.05},{"f":276.6,"v":0.067},{"f":277.0,"v":0.04},{"f":277.5,"v":0.03},{"f":278.0,"v":0.045},{"f":278.5,"v":0.035},{"f":279.0,"v":0.05},
      {"f":279.4,"v":0.065},{"f":279.8,"v":0.04},{"f":280.3,"v":0.03},{"f":280.8,"v":0.045},{"f":281.3,"v":0.035},{"f":281.8,"v":0.05},{"f":282.2,"v":0.06},{"f":282.6,"v":0.04},{"f":283.1,"v":0.05},{"f":283.6,"v":0.04},
      {"f":284.1,"v":0.055},{"f":284.7,"v":0.062},{"f":285.2,"v":0.04},{"f":285.7,"v":0.05},{"f":286.2,"v":0.045}
    ],
    "acc2": [
      {"t":0.000,"a":0.05},{"t":0.003,"a":-0.15},{"t":0.006,"a":0.20},{"t":0.009,"a":-0.10},{"t":0.012,"a":0.15},{"t":0.015,"a":-0.20},{"t":0.018,"a":0.10},{"t":0.021,"a":-0.05},{"t":0.024,"a":0.18},{"t":0.027,"a":-0.22},
      {"t":0.030,"a":0.25},{"t":0.033,"a":-0.30},{"t":0.036,"a":0.35},{"t":0.039,"a":-0.62},{"t":0.042,"a":0.59},{"t":0.045,"a":-1.61},{"t":0.048,"a":0.96},{"t":0.051,"a":-0.80},{"t":0.054,"a":0.70},{"t":0.057,"a":-1.27},
      {"t":0.060,"a":0.55},{"t":0.063,"a":-0.45},{"t":0.066,"a":0.62},{"t":0.069,"a":-1.04},{"t":0.072,"a":0.45},{"t":0.075,"a":-0.94},{"t":0.078,"a":0.60},{"t":0.081,"a":-0.40},{"t":0.084,"a":0.45},{"t":0.087,"a":-0.49},
      {"t":0.090,"a":0.30},{"t":0.093,"a":-0.30},{"t":0.096,"a":0.25},{"t":0.099,"a":-0.20},{"t":0.102,"a":0.22},{"t":0.105,"a":-0.15},{"t":0.108,"a":0.18},{"t":0.111,"a":-0.25},{"t":0.114,"a":0.12},{"t":0.117,"a":-0.20},
      {"t":0.120,"a":0.28},{"t":0.123,"a":-0.18},{"t":0.126,"a":0.15},{"t":0.129,"a":-0.10},{"t":0.132,"a":0.20},{"t":0.135,"a":-0.22},{"t":0.138,"a":0.12},{"t":0.141,"a":-0.08},{"t":0.144,"a":0.18},{"t":0.147,"a":-0.24},
      {"t":0.150,"a":0.14},{"t":0.153,"a":-0.12},{"t":0.156,"a":0.22},{"t":0.159,"a":-0.15},{"t":0.162,"a":0.10},{"t":0.165,"a":-0.18},{"t":0.168,"a":0.25},{"t":0.171,"a":-0.12},{"t":0.174,"a":0.08},{"t":0.177,"a":-0.14},
      {"t":0.180,"a":0.15},{"t":0.183,"a":-0.08},{"t":0.186,"a":0.10},{"t":0.189,"a":-0.12},{"t":0.192,"a":0.06},{"t":0.195,"a":-0.05},{"t":0.198,"a":0.10},{"t":0.201,"a":-0.08},{"t":0.204,"a":0.05},{"t":0.207,"a":-0.10},
      {"t":0.210,"a":0.12},{"t":0.213,"a":-0.06},{"t":0.216,"a":0.04},{"t":0.219,"a":-0.08},{"t":0.222,"a":0.10},{"t":0.225,"a":-0.05},{"t":0.228,"a":0.08},{"t":0.231,"a":-0.12},{"t":0.234,"a":0.06},{"t":0.237,"a":-0.04},
      {"t":0.240,"a":0.09},{"t":0.243,"a":-0.28},{"t":0.246,"a":0.10},{"t":0.249,"a":-0.06},{"t":0.252,"a":0.14},{"t":0.255,"a":-0.12},{"t":0.258,"a":0.08},{"t":0.261,"a":-0.16},{"t":0.264,"a":0.18},{"t":0.267,"a":-0.08},
      {"t":0.270,"a":0.12},{"t":0.273,"a":-0.20},{"t":0.276,"a":0.10},{"t":0.279,"a":-0.05},{"t":0.282,"a":0.15},{"t":0.285,"a":-0.10},{"t":0.288,"a":0.06},{"t":0.291,"a":-0.30},{"t":0.294,"a":0.12},{"t":0.297,"a":-0.08},
      {"t":0.300,"a":0.16},{"t":0.303,"a":-0.12},{"t":0.306,"a":0.20},{"t":0.309,"a":-0.10},{"t":0.312,"a":0.08},{"t":0.315,"a":-0.18},{"t":0.318,"a":0.12},{"t":0.321,"a":-0.30},{"t":0.324,"a":0.14},{"t":0.327,"a":-0.06},
      {"t":0.330,"a":0.10},{"t":0.333,"a":-0.14},{"t":0.336,"a":0.28},{"t":0.339,"a":-0.10},{"t":0.342,"a":0.12},{"t":0.345,"a":-0.08},{"t":0.348,"a":0.20},{"t":0.351,"a":-0.15},{"t":0.354,"a":0.06},{"t":0.357,"a":-0.12},
      {"t":0.360,"a":0.18},{"t":0.363,"a":-0.10},{"t":0.366,"a":0.14},{"t":0.369,"a":-0.20},{"t":0.372,"a":0.10},{"t":0.375,"a":-0.08},{"t":0.378,"a":0.22},{"t":0.381,"a":-0.16},{"t":0.384,"a":0.12},{"t":0.387,"a":-0.25},
      {"t":0.390,"a":0.30},{"t":0.393,"a":-0.40},{"t":0.396,"a":0.45},{"t":0.399,"a":-0.60},{"t":0.402,"a":0.70},{"t":0.405,"a":-1.07},{"t":0.408,"a":0.60},{"t":0.411,"a":-1.26},{"t":0.414,"a":0.93},{"t":0.417,"a":-1.00},
      {"t":0.420,"a":0.55},{"t":0.423,"a":-0.60},{"t":0.426,"a":0.78},{"t":0.429,"a":-0.91},{"t":0.432,"a":0.50},{"t":0.435,"a":-0.45},{"t":0.438,"a":0.45},{"t":0.441,"a":-0.35},{"t":0.444,"a":0.40},{"t":0.447,"a":-0.30},
      {"t":0.450,"a":0.28},{"t":0.453,"a":-0.38},{"t":0.456,"a":0.25},{"t":0.459,"a":-0.20},{"t":0.462,"a":0.22},{"t":0.465,"a":-0.15},{"t":0.468,"a":0.30},{"t":0.471,"a":-0.12},{"t":0.474,"a":0.20},{"t":0.477,"a":-0.25},
      {"t":0.480,"a":0.15},{"t":0.483,"a":-0.10},{"t":0.486,"a":0.34},{"t":0.489,"a":-0.18},{"t":0.492,"a":0.12},{"t":0.495,"a":-0.39},{"t":0.498,"a":0.20},{"t":0.501,"a":-0.12},{"t":0.504,"a":0.26},{"t":0.507,"a":-0.15},
      {"t":0.510,"a":0.10},{"t":0.513,"a":-0.22},{"t":0.516,"a":0.18},{"t":0.519,"a":-0.08},{"t":0.522,"a":0.15},{"t":0.525,"a":-0.20},{"t":0.528,"a":0.24},{"t":0.531,"a":-0.12},{"t":0.534,"a":0.08},{"t":0.537,"a":-0.16},
      {"t":0.540,"a":0.20},{"t":0.543,"a":-0.26},{"t":0.546,"a":0.14},{"t":0.549,"a":-0.10},{"t":0.552,"a":0.22},{"t":0.555,"a":-0.18},{"t":0.558,"a":0.12},{"t":0.561,"a":-0.24},{"t":0.564,"a":0.16},{"t":0.567,"a":-0.08},
      {"t":0.570,"a":0.20},{"t":0.573,"a":-0.14},{"t":0.576,"a":0.10},{"t":0.579,"a":-0.20},{"t":0.582,"a":0.25},{"t":0.585,"a":-0.15},{"t":0.588,"a":0.50},{"t":0.591,"a":-0.22},{"t":0.594,"a":0.18},{"t":0.597,"a":-0.26},
      {"t":0.600,"a":0.14},{"t":0.603,"a":-0.10},{"t":0.606,"a":0.24},{"t":0.609,"a":-0.18},{"t":0.612,"a":0.12},{"t":0.615,"a":-0.22},{"t":0.618,"a":0.20},{"t":0.621,"a":-0.12},{"t":0.624,"a":0.16},{"t":0.627,"a":-0.25},
      {"t":0.630,"a":0.10},{"t":0.633,"a":-0.08},{"t":0.636,"a":0.28},{"t":0.639,"a":0.34},{"t":0.642,"a":-0.20},{"t":0.645,"a":0.12},{"t":0.648,"a":-0.15},{"t":0.651,"a":0.22},{"t":0.654,"a":-0.12},{"t":0.657,"a":0.10},
      {"t":0.660,"a":-0.28},{"t":0.663,"a":0.15},{"t":0.666,"a":-0.10},{"t":0.669,"a":0.26},{"t":0.672,"a":-0.14},{"t":0.675,"a":0.08},{"t":0.678,"a":-0.20},{"t":0.681,"a":0.18},{"t":0.684,"a":-0.12},{"t":0.687,"a":-0.24},
      {"t":0.690,"a":0.14},{"t":0.693,"a":-0.06},{"t":0.696,"a":0.12},{"t":0.699,"a":-0.16},{"t":0.702,"a":0.22},{"t":0.705,"a":-0.10},{"t":0.708,"a":0.32},{"t":0.711,"a":-0.18},{"t":0.714,"a":0.12},{"t":0.717,"a":-0.08},
      {"t":0.720,"a":0.18},{"t":0.723,"a":-0.22},{"t":0.726,"a":0.10},{"t":0.729,"a":-0.12},{"t":0.732,"a":0.24},{"t":0.735,"a":-0.16},{"t":0.738,"a":0.10},{"t":0.741,"a":-0.28},{"t":0.744,"a":0.18},{"t":0.747,"a":-0.10},
      {"t":0.750,"a":0.14},{"t":0.753,"a":-0.20},{"t":0.756,"a":0.25},{"t":0.759,"a":-0.35},{"t":0.762,"a":0.65},{"t":0.765,"a":-0.78},{"t":0.768,"a":0.94},{"t":0.771,"a":-0.72},{"t":0.774,"a":0.95},{"t":0.777,"a":-0.50},
      {"t":0.780,"a":0.42},{"t":0.783,"a":-0.60},{"t":0.786,"a":1.06},{"t":0.789,"a":-0.89},{"t":0.792,"a":0.35},{"t":0.795,"a":-0.45},{"t":0.798,"a":0.30},{"t":0.801,"a":-0.30},{"t":0.804,"a":0.33},{"t":0.807,"a":-0.44},
      {"t":0.810,"a":0.20},{"t":0.813,"a":-0.18},{"t":0.816,"a":0.14},{"t":0.819,"a":-0.10},{"t":0.822,"a":0.12},{"t":0.825,"a":-0.15},{"t":0.828,"a":0.20},{"t":0.831,"a":-0.08},{"t":0.834,"a":0.10},{"t":0.837,"a":-0.12},
      {"t":0.840,"a":0.06},{"t":0.843,"a":-0.10},{"t":0.846,"a":0.12},{"t":0.849,"a":-0.05},{"t":0.852,"a":0.08},{"t":0.855,"a":-0.12},{"t":0.858,"a":0.06},{"t":0.861,"a":-0.04},{"t":0.864,"a":0.10},{"t":0.867,"a":-0.08},
      {"t":0.870,"a":0.05},{"t":0.873,"a":-0.10},{"t":0.876,"a":0.12},{"t":0.879,"a":-0.06},{"t":0.882,"a":0.08},{"t":0.885,"a":-0.12},{"t":0.888,"a":0.10},{"t":0.891,"a":-0.08},{"t":0.894,"a":0.14},{"t":0.897,"a":-0.18},
      {"t":0.900,"a":0.25},{"t":0.903,"a":-0.21},{"t":0.906,"a":0.12},{"t":0.909,"a":-0.10},{"t":0.912,"a":0.08},{"t":0.915,"a":-0.12},{"t":0.918,"a":0.10},{"t":0.921,"a":-0.06},{"t":0.924,"a":0.05},{"t":0.927,"a":-0.08},
      {"t":0.930,"a":0.12},{"t":0.933,"a":-0.05},{"t":0.936,"a":0.06},{"t":0.939,"a":-0.10},{"t":0.942,"a":0.08},{"t":0.945,"a":-0.04},{"t":0.948,"a":0.05},{"t":0.951,"a":-0.07},{"t":0.954,"a":0.06},{"t":0.957,"a":-0.03},
      {"t":0.960,"a":0.04},{"t":0.963,"a":-0.06},{"t":0.966,"a":0.05},{"t":0.969,"a":-0.04},{"t":0.972,"a":0.07},{"t":0.975,"a":-0.05},{"t":0.978,"a":0.03},{"t":0.981,"a":-0.06},{"t":0.984,"a":0.08},{"t":0.987,"a":-0.04},
      {"t":0.990,"a":0.06},{"t":0.993,"a":-0.08},{"t":0.996,"a":0.05},{"t":0.999,"a":-0.03},{"t":1.002,"a":0.10},{"t":1.005,"a":-0.14},{"t":1.008,"a":0.18},{"t":1.011,"a":-0.20},{"t":1.014,"a":0.30},{"t":1.017,"a":-0.28},
      {"t":1.020,"a":0.16},{"t":1.023,"a":-0.12},{"t":1.026,"a":0.22},{"t":1.029,"a":-0.10},{"t":1.032,"a":0.08},{"t":1.035,"a":-0.16},{"t":1.038,"a":0.12},{"t":1.041,"a":-0.06},{"t":1.044,"a":0.20},{"t":1.047,"a":-0.14},
      {"t":1.050,"a":0.10},{"t":1.053,"a":-0.08},{"t":1.056,"a":0.25},{"t":1.059,"a":-0.12},{"t":1.062,"a":0.06},{"t":1.065,"a":-0.10},{"t":1.068,"a":0.15},{"t":1.071,"a":-0.18},{"t":1.074,"a":0.10},{"t":1.077,"a":-0.06},
      {"t":1.080,"a":0.14},{"t":1.083,"a":-0.12},{"t":1.086,"a":0.08},{"t":1.089,"a":-0.30},{"t":1.092,"a":0.12},{"t":1.095,"a":-0.10},{"t":1.098,"a":0.20},{"t":1.101,"a":-0.15},{"t":1.104,"a":0.25},{"t":1.107,"a":-0.30},
      {"t":1.110,"a":0.35},{"t":1.113,"a":-0.50},{"t":1.116,"a":0.50},{"t":1.119,"a":-0.70},{"t":1.122,"a":0.70},{"t":1.124,"a":-0.40},{"t":1.126,"a":0.92},{"t":1.128,"a":-1.15},{"t":1.131,"a":1.06},{"t":1.134,"a":-0.60},
      {"t":1.137,"a":0.45},{"t":1.140,"a":-0.55},{"t":1.142,"a":0.60},{"t":1.144,"a":-0.40},{"t":1.146,"a":1.10},{"t":1.149,"a":-0.70},{"t":1.152,"a":0.65},{"t":1.155,"a":-0.76},{"t":1.158,"a":0.50},{"t":1.161,"a":-0.45},
      {"t":1.164,"a":0.40},{"t":1.167,"a":-0.35},{"t":1.170,"a":0.30},{"t":1.173,"a":-0.25},{"t":1.176,"a":0.22},{"t":1.179,"a":-0.18},{"t":1.182,"a":0.20},{"t":1.185,"a":-0.12},{"t":1.188,"a":0.25},{"t":1.191,"a":-0.15},
      {"t":1.194,"a":0.30},{"t":1.197,"a":-0.20},{"t":1.200,"a":0.12},{"t":1.203,"a":-0.10},{"t":1.206,"a":0.18},{"t":1.209,"a":-0.25},{"t":1.212,"a":0.15},{"t":1.215,"a":-0.08},{"t":1.218,"a":0.20},{"t":1.221,"a":-0.12},
      {"t":1.224,"a":0.10},{"t":1.227,"a":-0.18},{"t":1.230,"a":0.22},{"t":1.233,"a":-0.15},{"t":1.236,"a":0.12},{"t":1.239,"a":-0.20},{"t":1.242,"a":0.18},{"t":1.245,"a":0.40},{"t":1.248,"a":-0.43},{"t":1.251,"a":0.15},
      {"t":1.254,"a":-0.12},{"t":1.257,"a":0.20},{"t":1.260,"a":-0.18},{"t":1.263,"a":0.25},{"t":1.266,"a":-0.10},{"t":1.269,"a":0.14},{"t":1.272,"a":-0.20},{"t":1.275,"a":0.18},{"t":1.278,"a":-0.12},{"t":1.281,"a":0.10},
      {"t":1.284,"a":-0.08},{"t":1.287,"a":0.06}
    ],
    "arr1": [
      {"id":"a1","part":"shaft","o":0,"t":0.141,"a":0.569},{"id":"a1","part":"shaft","o":1,"t":0.152,"a":0.487},{"id":"a1","part":"shaft","o":2,"t":0.150,"a":0.389},{"id":"a1","part":"shaft","o":3,"t":0.138,"a":0.290},{"id":"a1","part":"shaft","o":4,"t":0.123,"a":0.225},
      {"id":"a1h","part":"head","o":0,"t":0.112,"a":0.379},{"id":"a1h","part":"head","o":1,"t":0.118,"a":0.198},{"id":"a1h","part":"head","o":2,"t":0.156,"a":0.225},
      {"id":"a2","part":"shaft","o":0,"t":0.529,"a":0.536},{"id":"a2","part":"shaft","o":1,"t":0.509,"a":0.438},{"id":"a2","part":"shaft","o":2,"t":0.488,"a":0.323},
      {"id":"a2h","part":"head","o":0,"t":0.483,"a":0.389},{"id":"a2h","part":"head","o":1,"t":0.477,"a":0.290},{"id":"a2h","part":"head","o":2,"t":0.505,"a":0.316},
      {"id":"a3","part":"shaft","o":0,"t":0.896,"a":0.546},{"id":"a3","part":"shaft","o":1,"t":0.865,"a":0.454},{"id":"a3","part":"shaft","o":2,"t":0.836,"a":0.362},
      {"id":"a3h","part":"head","o":0,"t":0.836,"a":0.421},{"id":"a3h","part":"head","o":1,"t":0.824,"a":0.330},{"id":"a3h","part":"head","o":2,"t":0.859,"a":0.339},
      {"id":"a4","part":"shaft","o":0,"t":1.054,"a":0.575},{"id":"a4","part":"shaft","o":1,"t":1.092,"a":0.497},{"id":"a4","part":"shaft","o":2,"t":1.120,"a":0.405},
      {"id":"a4h","part":"head","o":0,"t":1.123,"a":0.530},{"id":"a4h","part":"head","o":1,"t":1.120,"a":0.405},{"id":"a4h","part":"head","o":2,"t":1.069,"a":0.438}
    ],
    "arr2": [
      {"id":"b1","part":"shaft","o":0,"t":0.116,"a":1.694},{"id":"b1","part":"shaft","o":1,"t":0.122,"a":1.418},{"id":"b1","part":"shaft","o":2,"t":0.114,"a":1.119},{"id":"b1","part":"shaft","o":3,"t":0.098,"a":0.897},{"id":"b1","part":"shaft","o":4,"t":0.084,"a":0.831},
      {"id":"b1h","part":"head","o":0,"t":0.075,"a":1.163},{"id":"b1h","part":"head","o":1,"t":0.082,"a":0.808},{"id":"b1h","part":"head","o":2,"t":0.117,"a":0.919},
      {"id":"b2","part":"shaft","o":0,"t":0.357,"a":1.938},{"id":"b2","part":"shaft","o":1,"t":0.384,"a":1.694},{"id":"b2","part":"shaft","o":2,"t":0.415,"a":1.418},
      {"id":"b2h","part":"head","o":0,"t":0.410,"a":1.717},{"id":"b2h","part":"head","o":1,"t":0.419,"a":1.384},{"id":"b2h","part":"head","o":2,"t":0.358,"a":1.395},
      {"id":"b3","part":"shaft","o":0,"t":0.700,"a":1.694},{"id":"b3","part":"shaft","o":1,"t":0.732,"a":1.362},{"id":"b3","part":"shaft","o":2,"t":0.761,"a":1.063},
      {"id":"b3h","part":"head","o":0,"t":0.750,"a":1.495},{"id":"b3h","part":"head","o":1,"t":0.763,"a":1.052},{"id":"b3h","part":"head","o":2,"t":0.697,"a":1.218},
      {"id":"b4","part":"shaft","o":0,"t":1.014,"a":1.528},{"id":"b4","part":"shaft","o":1,"t":1.063,"a":1.274},{"id":"b4","part":"shaft","o":2,"t":1.089,"a":0.908},
      {"id":"b4h","part":"head","o":0,"t":1.078,"a":1.307},{"id":"b4h","part":"head","o":1,"t":1.090,"a":0.886},{"id":"b4h","part":"head","o":2,"t":0.997,"a":0.919}
    ]
  },
  "vconcat": [
    {
      "width": 838, "height": 305,
      "data": {"name": "spec1"},
      "mark": {"type": "line", "color": "#22225e", "strokeWidth": 1, "clip": true},
      "encoding": {
        "x": {"field": "f", "type": "quantitative", "scale": {"domain": [0, 286.5], "nice": false},
              "axis": {"values": [0, 100, 200], "title": "Frequency (Hz)", "titleX": 440, "labelExpr": "'' + datum.value"}},
        "y": {"field": "v", "type": "quantitative", "scale": {"domain": [0, 0.23], "nice": false},
              "axis": {"values": [0, 0.046, 0.092, 0.138, 0.184, 0.23], "title": "RMS Velocity in mm/sec", "labelExpr": "'' + datum.value"}}
      }
    },
    {
      "width": 838, "height": 305,
      "layer": [
        {
          "data": {"name": "acc1"},
          "mark": {"type": "line", "color": "#2a2ab4", "strokeWidth": 0.8, "clip": true},
          "encoding": {
            "x": {"field": "t", "type": "quantitative", "scale": {"domain": [0, 1.2856], "nice": false},
                  "axis": {"values": [0, 0.27, 0.54, 0.81, 1.08], "title": "Time (Seconds)", "titleX": 440, "labelExpr": "'' + datum.value"}},
            "y": {"field": "a", "type": "quantitative", "scale": {"domain": [-0.5, 0.5], "nice": false},
                  "axis": {"values": [-0.5, -0.25, 0, 0.25, 0.5], "title": "Acceleration in G's", "labelExpr": "'' + datum.value"}}
          }
        },
        {
          "data": {"name": "arr1"},
          "transform": [{"filter": "datum.part == 'shaft'"}],
          "mark": {"type": "line", "color": "#f15a2b", "strokeWidth": 5, "strokeCap": "round", "strokeJoin": "round", "interpolate": "basis"},
          "encoding": {
            "x": {"field": "t", "type": "quantitative", "scale": {"domain": [0, 1.2856], "nice": false}},
            "y": {"field": "a", "type": "quantitative", "scale": {"domain": [-0.5, 0.5], "nice": false}},
            "detail": {"field": "id"},
            "order": {"field": "o"}
          }
        },
        {
          "data": {"name": "arr1"},
          "transform": [{"filter": "datum.part == 'head'"}],
          "mark": {"type": "line", "color": "#f15a2b", "strokeWidth": 8, "strokeCap": "round", "strokeJoin": "round"},
          "encoding": {
            "x": {"field": "t", "type": "quantitative", "scale": {"domain": [0, 1.2856], "nice": false}},
            "y": {"field": "a", "type": "quantitative", "scale": {"domain": [-0.5, 0.5], "nice": false}},
            "detail": {"field": "id"},
            "order": {"field": "o"}
          }
        }
      ]
    },
    {
      "width": 838, "height": 24,
      "data": {"values": []},
      "mark": "point"
    },
    {
      "width": 838, "height": 306,
      "data": {"name": "spec2"},
      "mark": {"type": "line", "color": "#22225e", "strokeWidth": 1, "clip": true},
      "encoding": {
        "x": {"field": "f", "type": "quantitative", "scale": {"domain": [0, 286.5], "nice": false},
              "axis": {"values": [0, 100, 200], "title": "Frequency (Hz)", "titleX": 440, "labelExpr": "'' + datum.value"}},
        "y": {"field": "v", "type": "quantitative", "scale": {"domain": [0, 0.6], "nice": false},
              "axis": {"values": [0, 0.1, 0.2, 0.3, 0.4, 0.5, 0.6], "title": "RMS Velocity in mm/sec", "labelExpr": "'' + datum.value"}}
      }
    },
    {
      "width": 838, "height": 307,
      "layer": [
        {
          "data": {"name": "acc2"},
          "mark": {"type": "line", "color": "#2a2ab4", "strokeWidth": 0.8, "clip": true},
          "encoding": {
            "x": {"field": "t", "type": "quantitative", "scale": {"domain": [0, 1.2856], "nice": false},
                  "axis": {"values": [0, 0.27, 0.54, 0.81, 1.08], "title": "Time (Seconds)", "titleX": 440, "labelExpr": "'' + datum.value"}},
            "y": {"field": "a", "type": "quantitative", "scale": {"domain": [-1.7, 1.7], "nice": false},
                  "axis": {"values": [-1.7, -0.85, 0, 0.85, 1.7], "title": "Acceleration in G's", "labelExpr": "'' + datum.value"}}
          }
        },
        {
          "data": {"name": "arr2"},
          "transform": [{"filter": "datum.part == 'shaft'"}],
          "mark": {"type": "line", "color": "#f15a2b", "strokeWidth": 5, "strokeCap": "round", "strokeJoin": "round", "interpolate": "basis"},
          "encoding": {
            "x": {"field": "t", "type": "quantitative", "scale": {"domain": [0, 1.2856], "nice": false}},
            "y": {"field": "a", "type": "quantitative", "scale": {"domain": [-1.7, 1.7], "nice": false}},
            "detail": {"field": "id"},
            "order": {"field": "o"}
          }
        },
        {
          "data": {"name": "arr2"},
          "transform": [{"filter": "datum.part == 'head'"}],
          "mark": {"type": "line", "color": "#f15a2b", "strokeWidth": 8, "strokeCap": "round", "strokeJoin": "round"},
          "encoding": {
            "x": {"field": "t", "type": "quantitative", "scale": {"domain": [0, 1.2856], "nice": false}},
            "y": {"field": "a", "type": "quantitative", "scale": {"domain": [-1.7, 1.7], "nice": false}},
            "detail": {"field": "id"},
            "order": {"field": "o"}
          }
        }
      ]
    }
  ],
  "spacing": 56,
  "bounds": "flush"
}
